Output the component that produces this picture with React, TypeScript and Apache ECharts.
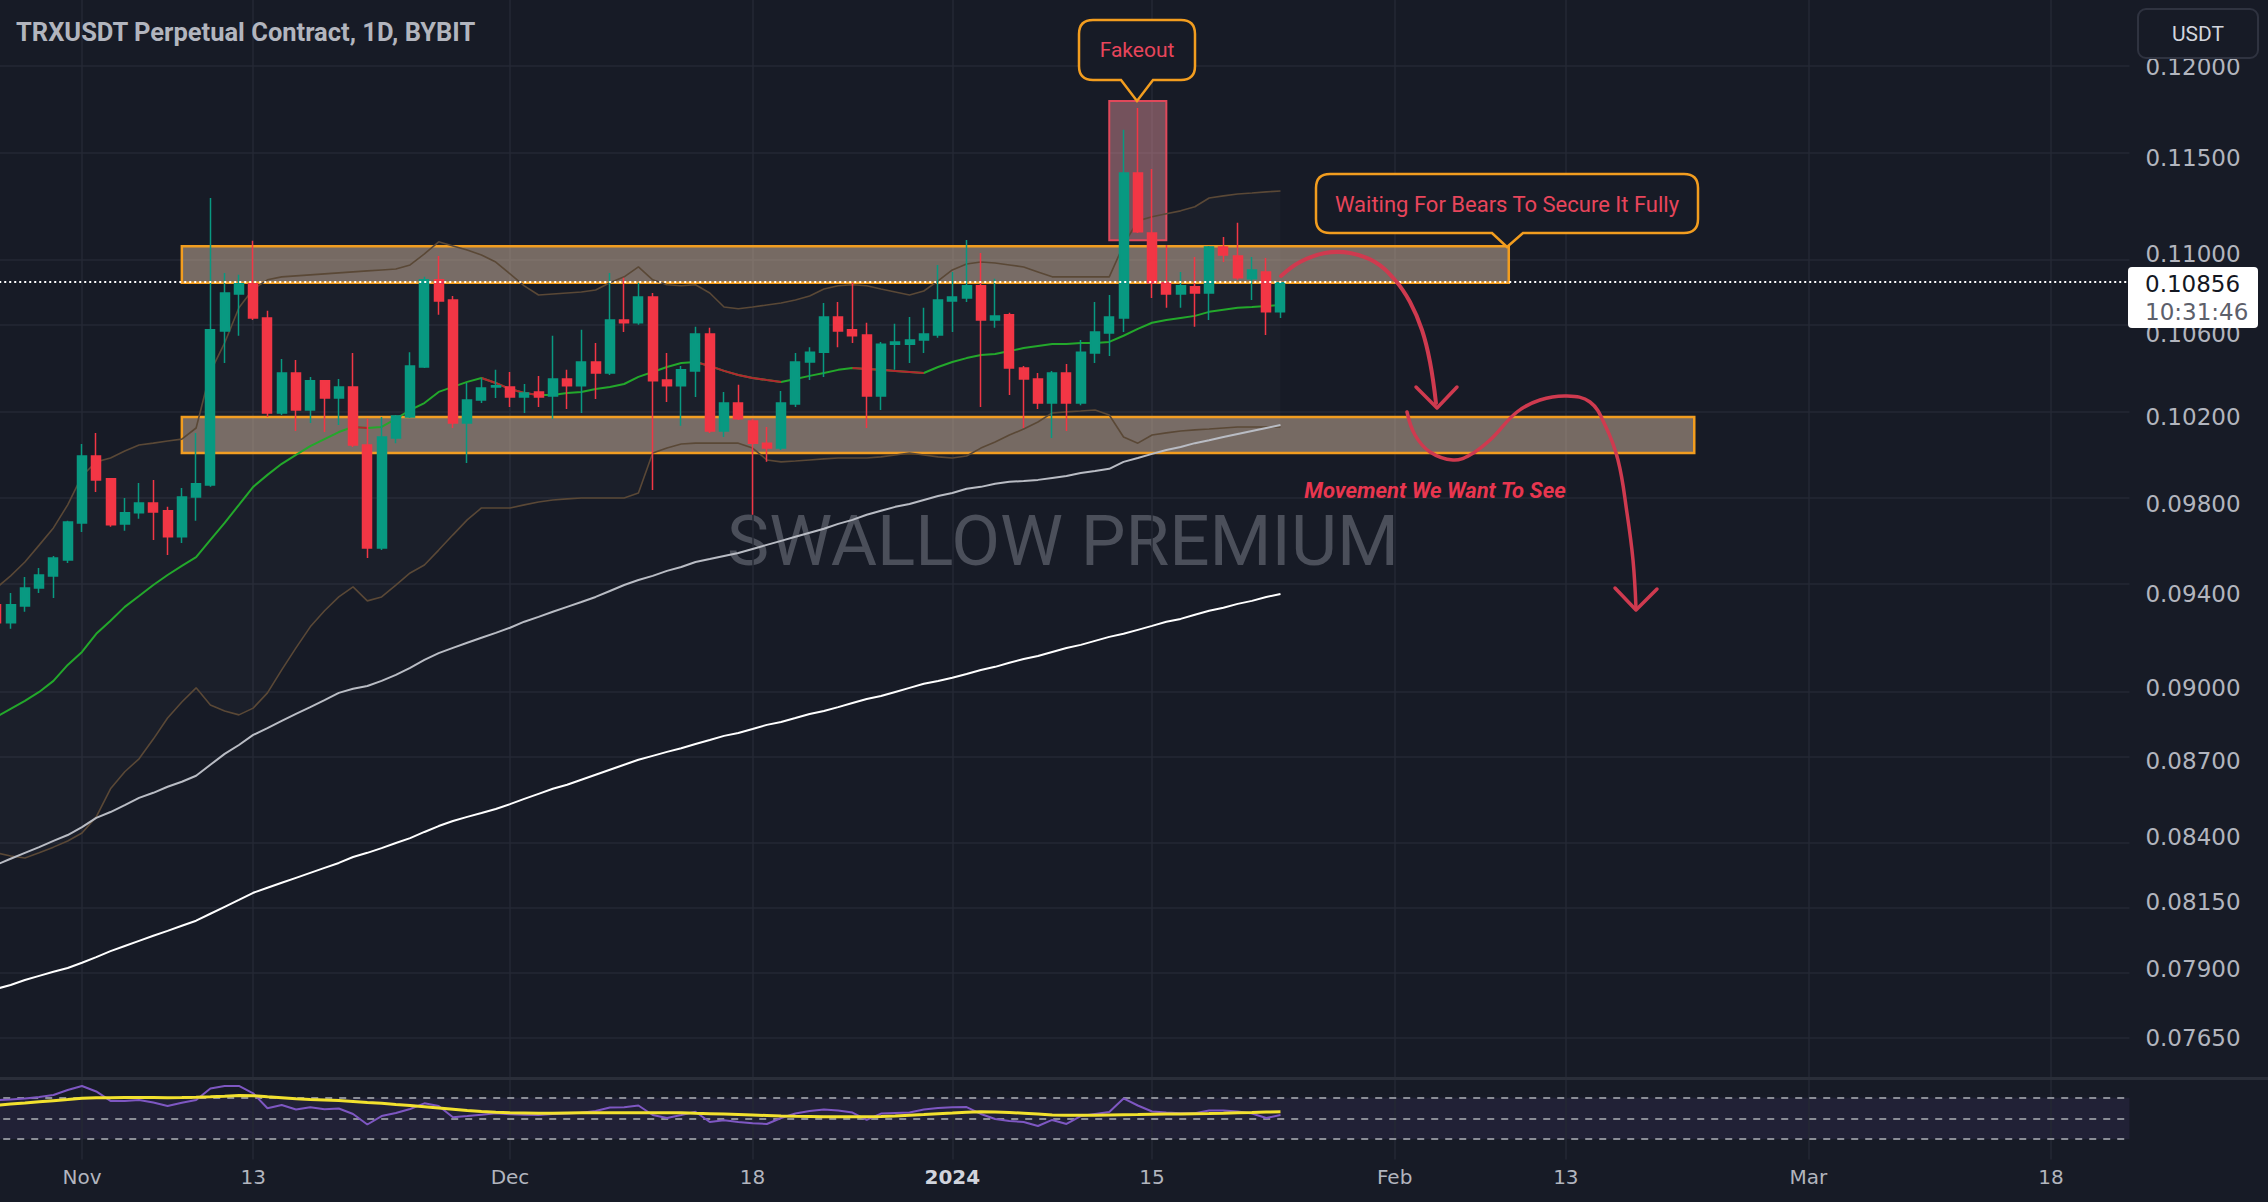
import React, { useEffect, useRef } from "react";
import * as echarts from "echarts";

// ---------------- data ----------------
const START_UTC = Date.UTC(2023, 9, 26); // first category: 2023-10-26
const DAY_COUNT = 150; // categories through 2024-03-23

// [open, high, low, close] per day from 2023-10-26 to 2024-01-24
const CANDLES: number[][] = [
  [0.09352, 0.09373, 0.09253, 0.09274], [0.09274, 0.09403, 0.09249, 0.09352], [0.09347, 0.09473, 0.09322, 0.09425],
  [0.09425, 0.09513, 0.09403, 0.09482], [0.09478, 0.09566, 0.09381, 0.09557], [0.09548, 0.09723, 0.09535, 0.09718],
  [0.09713, 0.10075, 0.09673, 0.10019], [0.10019, 0.10127, 0.09854, 0.09909], [0.09914, 0.09918, 0.09696, 0.09705],
  [0.09709, 0.09826, 0.09678, 0.09759], [0.09759, 0.09895, 0.09732, 0.09804], [0.09804, 0.09909, 0.09637, 0.09763],
  [0.09768, 0.09786, 0.0957, 0.09651], [0.09651, 0.09872, 0.09624, 0.09831], [0.09831, 0.10127, 0.09723, 0.09891],
  [0.09886, 0.11291, 0.09877, 0.10622], [0.10617, 0.10906, 0.1046, 0.10805], [0.108, 0.10896, 0.10593, 0.10851],
  [0.10851, 0.11069, 0.10671, 0.10681], [0.10681, 0.10716, 0.10202, 0.10221], [0.10221, 0.1048, 0.10211, 0.10412],
  [0.10412, 0.10475, 0.10136, 0.10235], [0.10235, 0.10393, 0.10174, 0.10374], [0.10374, 0.10378, 0.10131, 0.10292],
  [0.10292, 0.10383, 0.10164, 0.10345], [0.10345, 0.10509, 0.10061, 0.1007], [0.1007, 0.10193, 0.09557, 0.09601],
  [0.09601, 0.10202, 0.09592, 0.10108], [0.10103, 0.10211, 0.10079, 0.10207], [0.10202, 0.10513, 0.10197, 0.10446],
  [0.10441, 0.10886, 0.10436, 0.10871], [0.10871, 0.10992, 0.10696, 0.10765], [0.1077, 0.1079, 0.1015, 0.10174],
  [0.10174, 0.10364, 0.09987, 0.10282], [0.10282, 0.10388, 0.10268, 0.1034], [0.10345, 0.10427, 0.10292, 0.1035],
  [0.10345, 0.10417, 0.10249, 0.10297], [0.10297, 0.10359, 0.10221, 0.10316], [0.10321, 0.10398, 0.10249, 0.10297],
  [0.10302, 0.10593, 0.10193, 0.10383], [0.10383, 0.10427, 0.1024, 0.1035], [0.1035, 0.10622, 0.10221, 0.10465],
  [0.10465, 0.10557, 0.10287, 0.10412], [0.10412, 0.10906, 0.10402, 0.10671], [0.10671, 0.10881, 0.10612, 0.10657],
  [0.10657, 0.10856, 0.10647, 0.10785], [0.10785, 0.10805, 0.09863, 0.10374], [0.10378, 0.10509, 0.10273, 0.1035],
  [0.1035, 0.10446, 0.1016, 0.10427], [0.10422, 0.10637, 0.10297, 0.10602], [0.10602, 0.10632, 0.10127, 0.10136],
  [0.10136, 0.10321, 0.10108, 0.10268], [0.10268, 0.10355, 0.10188, 0.10193], [0.10183, 0.10193, 0.0975, 0.10079],
  [0.10079, 0.10155, 0.09992, 0.10056], [0.10056, 0.10326, 0.10047, 0.10268], [0.10263, 0.10509, 0.10249, 0.10465],
  [0.10465, 0.10537, 0.10378, 0.10513], [0.10513, 0.10755, 0.10393, 0.10686], [0.10686, 0.1076, 0.10537, 0.10617],
  [0.10622, 0.10856, 0.10557, 0.10593], [0.10597, 0.10657, 0.1015, 0.10302], [0.10302, 0.10562, 0.10235, 0.10552],
  [0.10552, 0.10652, 0.10427, 0.10562], [0.10552, 0.10686, 0.1046, 0.10572], [0.10572, 0.10731, 0.10509, 0.10602],
  [0.10597, 0.10946, 0.10583, 0.1077], [0.10765, 0.10911, 0.10612, 0.10785], [0.1078, 0.11074, 0.1076, 0.10841],
  [0.10841, 0.11007, 0.10249, 0.10671], [0.10671, 0.10876, 0.10632, 0.10691], [0.10696, 0.10706, 0.10306, 0.10436],
  [0.10436, 0.10446, 0.1015, 0.10383], [0.10383, 0.10412, 0.1024, 0.10268], [0.10268, 0.10422, 0.10103, 0.10412],
  [0.10412, 0.10455, 0.10136, 0.10268], [0.10268, 0.10572, 0.10258, 0.10513], [0.10509, 0.1076, 0.1046, 0.10612],
  [0.10607, 0.10795, 0.10494, 0.10686], [0.10681, 0.11653, 0.10612, 0.11423], [0.11423, 0.11772, 0.1111, 0.11116],
  [0.1111, 0.11444, 0.1078, 0.10856], [0.10856, 0.11048, 0.10731, 0.108], [0.108, 0.10911, 0.10731, 0.10841],
  [0.10836, 0.10987, 0.10637, 0.10805], [0.10805, 0.11043, 0.10671, 0.11038], [0.11038, 0.11089, 0.10961, 0.10997],
  [0.10992, 0.11162, 0.10871, 0.10881], [0.10876, 0.10987, 0.1077, 0.10921], [0.10911, 0.10982, 0.10597, 0.10711],
  [0.10711, 0.10861, 0.10681, 0.10856],
];

const MA20 = [
  0.08879, 0.08912, 0.08945, 0.08982, 0.09028, 0.09095, 0.0915, 0.09227, 0.09283, 0.09343,
  0.0939, 0.09438, 0.09482, 0.09522, 0.09561, 0.09637, 0.09714, 0.09795, 0.09877, 0.09932,
  0.09983, 0.10024, 0.10065, 0.10098, 0.10131, 0.10155, 0.1015, 0.10155, 0.10193, 0.10235,
  0.10268, 0.10321, 0.10345, 0.10369, 0.10388, 0.10364, 0.10335, 0.10316, 0.10306, 0.10306,
  0.10316, 0.10321, 0.10335, 0.10345, 0.10359, 0.10393, 0.10417, 0.10441, 0.1046, 0.10465,
  0.10446, 0.10422, 0.10402, 0.10388, 0.10378, 0.10369, 0.10383, 0.10398, 0.10412, 0.10427,
  0.10436, 0.10431, 0.10427, 0.10422, 0.10417, 0.10412, 0.10441, 0.10465, 0.10484, 0.10499,
  0.10504, 0.10518, 0.10533, 0.10543, 0.10553, 0.10553, 0.10558, 0.10558, 0.10563, 0.10593,
  0.10627, 0.10657, 0.10671, 0.10681, 0.10691, 0.10711, 0.10721, 0.10731, 0.10735, 0.1074, 0.10745,
];

const BB_UPPER = [
  0.09425, 0.09478, 0.09539, 0.09614, 0.09691, 0.09795, 0.09927, 0.09992, 0.1001, 0.10042,
  0.1007, 0.10079, 0.10089, 0.10098, 0.1015, 0.10417, 0.10558, 0.10731, 0.10825, 0.10871,
  0.10886, 0.10891, 0.10896, 0.10901, 0.10906, 0.10911, 0.10916, 0.10921, 0.10926, 0.10946,
  0.11002, 0.11064, 0.11043, 0.11022, 0.10997, 0.10961, 0.10901, 0.10841, 0.10795, 0.108,
  0.10805, 0.1081, 0.1082, 0.10856, 0.10886, 0.10936, 0.10871, 0.10846, 0.10841, 0.10846,
  0.10805, 0.10735, 0.10726, 0.10735, 0.10745, 0.10755, 0.1077, 0.1079, 0.10825, 0.10841,
  0.10846, 0.10841, 0.10825, 0.1081, 0.10795, 0.10815, 0.10866, 0.10921, 0.10951, 0.10961,
  0.10956, 0.10946, 0.10936, 0.10911, 0.10886, 0.10886, 0.10886, 0.10886, 0.10886, 0.11048,
  0.11172, 0.11193, 0.11209, 0.11224, 0.11245, 0.11291, 0.11302, 0.11312, 0.11317, 0.11323, 0.11328,
];

const BB_LOWER = [
  0.08337, 0.08325, 0.08317, 0.08337, 0.08359, 0.08383, 0.08414, 0.08477, 0.08588, 0.08656,
  0.08708, 0.08788, 0.08874, 0.0894, 0.08999, 0.08928, 0.08903, 0.08887, 0.08915, 0.08978,
  0.09074, 0.09167, 0.09257, 0.09326, 0.09386, 0.0943, 0.09369, 0.09386, 0.09438, 0.09491,
  0.09526, 0.09592, 0.0966, 0.09727, 0.09781, 0.09781, 0.09781, 0.09795, 0.09808, 0.09817,
  0.09822, 0.09826, 0.09826, 0.09826, 0.09826, 0.09849, 0.10033, 0.10056, 0.10075, 0.10079,
  0.10079, 0.10079, 0.10079, 0.10056, 0.10001, 0.09992, 0.09996, 0.10001, 0.10006, 0.1001,
  0.1001, 0.1001, 0.10015, 0.10024, 0.10033, 0.10024, 0.10015, 0.1001, 0.10019, 0.10056,
  0.10084, 0.10117, 0.10145, 0.10178, 0.10221, 0.10226, 0.1023, 0.10235, 0.10211, 0.10108,
  0.10079, 0.10117, 0.10127, 0.10136, 0.10141, 0.10145, 0.1015, 0.10155, 0.10155, 0.10155, 0.10155,
];

const MA100 = [
  0.08291, 0.08314, 0.08337, 0.08359, 0.08383, 0.08406, 0.08437, 0.08473, 0.08496, 0.08523,
  0.08552, 0.08572, 0.08596, 0.08616, 0.0864, 0.08684, 0.08728, 0.08764, 0.08805, 0.08833,
  0.08862, 0.08891, 0.08919, 0.08948, 0.08978, 0.08995, 0.09007, 0.09028, 0.09053, 0.09083,
  0.09116, 0.09145, 0.09167, 0.09189, 0.0921, 0.09231, 0.09253, 0.09279, 0.093, 0.09322,
  0.09343, 0.09364, 0.09386, 0.09412, 0.09438, 0.0946, 0.09478, 0.095, 0.09517, 0.09539,
  0.09552, 0.09566, 0.09579, 0.09597, 0.09615, 0.09633, 0.09651, 0.09669, 0.09687, 0.09709,
  0.09727, 0.0975, 0.09768, 0.09786, 0.09799, 0.09817, 0.09835, 0.09849, 0.09868, 0.09877,
  0.09891, 0.099, 0.09904, 0.09909, 0.09918, 0.09927, 0.09941, 0.0995, 0.0996, 0.09992,
  0.1001, 0.10029, 0.10047, 0.10061, 0.10079, 0.10093, 0.10108, 0.10122, 0.10136, 0.1015, 0.10164,
];

const MA200 = [
  0.07828, 0.07842, 0.0786, 0.07875, 0.0789, 0.07904, 0.07923, 0.07944, 0.07966, 0.07985,
  0.08004, 0.08023, 0.08041, 0.0806, 0.08079, 0.08105, 0.08131, 0.08157, 0.08184, 0.08203,
  0.08222, 0.08241, 0.0826, 0.08279, 0.08298, 0.08321, 0.08337, 0.08355, 0.08375, 0.08394,
  0.08418, 0.08441, 0.08461, 0.08477, 0.08492, 0.08508, 0.08527, 0.08548, 0.08568, 0.08588,
  0.08604, 0.08624, 0.08644, 0.08664, 0.08684, 0.08704, 0.0872, 0.08736, 0.08751, 0.08768,
  0.08784, 0.08801, 0.08813, 0.08829, 0.08846, 0.08858, 0.08874, 0.08891, 0.08903, 0.08919,
  0.08936, 0.08953, 0.08965, 0.08982, 0.08999, 0.09016, 0.09028, 0.09041, 0.09057, 0.09074,
  0.09087, 0.09104, 0.0912, 0.09133, 0.0915, 0.09167, 0.0918, 0.09197, 0.09214, 0.09227,
  0.09244, 0.09261, 0.09279, 0.09291, 0.09309, 0.09326, 0.09339, 0.09356, 0.09369, 0.09386, 0.09399,
];

const RSI = [
  67.7, 68.2, 69.2, 70.6, 72.6, 77.4, 81.3, 76.0, 66.8, 66.8,
  67.7, 65.3, 61.9, 65.1, 67.7, 78.9, 81.3, 81.3, 74.2, 59.7,
  62.9, 58.5, 60.7, 58.7, 59.5, 54.2, 44.0, 52.2, 55.1, 59.0,
  64.5, 61.9, 51.0, 52.2, 53.5, 54.8, 54.0, 53.4, 53.2, 54.2,
  54.6, 55.4, 57.1, 60.5, 60.7, 62.4, 53.2, 50.3, 53.2, 56.4,
  46.4, 48.1, 46.4, 45.1, 44.5, 50.3, 54.6, 57.1, 58.5, 57.6,
  55.6, 48.4, 54.6, 55.1, 55.6, 58.5, 60.0, 60.7, 60.9, 54.2,
  49.3, 47.4, 46.4, 42.5, 48.4, 44.5, 52.2, 54.2, 56.1, 69.2,
  62.4, 56.6, 55.6, 54.8, 54.8, 57.6, 57.6, 56.6, 54.6, 50.3, 53.2,
];

const RSI_MA = [
  62.4, 63.9, 64.8, 66.0, 67.1, 68.2, 69.4, 69.8, 70.0, 70.2,
  70.2, 70.1, 70.0, 70.1, 70.4, 70.8, 71.4, 72.1, 71.8, 70.8,
  69.9, 68.9, 68.2, 67.7, 67.2, 66.3, 65.3, 64.5, 63.4, 62.4,
  61.2, 60.0, 58.8, 57.6, 56.6, 55.8, 55.3, 55.1, 54.9, 54.9,
  55.1, 55.3, 55.4, 55.4, 55.4, 55.4, 55.4, 55.4, 55.3, 54.8,
  54.5, 54.2, 53.7, 53.2, 52.7, 52.2, 51.9, 51.7, 51.5, 51.5,
  51.5, 51.5, 51.7, 52.2, 53.0, 53.7, 54.5, 55.1, 55.9, 56.4,
  56.2, 55.6, 54.9, 54.2, 53.2, 53.0, 52.9, 53.0, 53.2, 53.4,
  53.6, 53.9, 54.1, 54.2, 54.4, 54.6, 54.9, 55.3, 55.6, 56.0, 56.4,
];

const PRICE_TICKS = [0.12, 0.115, 0.11, 0.106, 0.102, 0.098, 0.094, 0.09, 0.087, 0.084, 0.0815, 0.079, 0.0765];
const PRICE_RANGE = [0.075113, 0.123754];
const RSI_RANGE = [10, 90];
const RSI_LEVELS = [70, 50, 30];
const TIME_TICKS: [string, string][] = [
  ["2023-11-01", "Nov"], ["2023-11-13", "13"], ["2023-12-01", "Dec"], ["2023-12-18", "18"],
  ["2024-01-01", "2024"], ["2024-01-15", "15"], ["2024-02-01", "Feb"], ["2024-02-13", "13"],
  ["2024-03-01", "Mar"], ["2024-03-18", "18"],
];
const ZONES = [
  { from: "2023-11-08", to: "2024-02-09", low: 0.10856, high: 0.11042 },
  { from: "2023-11-08", to: "2024-02-22", low: 0.10033, high: 0.10202 },
];
const FAKEOUT = { from: "2024-01-12", to: "2024-01-16", low: 0.11072, high: 0.1181 };
const TITLE = "TRXUSDT Perpetual Contract, 1D, BYBIT";
const LAST_TIME = "10:31:46";

// ---------------- styling ----------------
const BG = "#171b26";
const GRID_COLOR = "#252935";
const UP = "#089981";
const DOWN = "#f23645";
const ORANGE = "#f29d1f";
const NOTE_RED = "#e8455b";
const AXIS_FONT = "DejaVu Sans";

const FAKEOUT_BUBBLE =
  "M1093 20H1181Q1195 20 1195 34V66Q1195 80 1181 80H1153L1137 101L1121 80H1093Q1079 80 1079 66V34Q1079 20 1093 20Z";
const WAITING_BUBBLE =
  "M1330 174H1684Q1698 174 1698 188V219Q1698 233 1684 233H1523L1507 247L1492 233H1330Q1316 233 1316 219V188Q1316 174 1330 174Z";
echarts.graphic.registerShape("fakeoutBubble", echarts.graphic.extendPath(FAKEOUT_BUBBLE, {}));
echarts.graphic.registerShape("waitingBubble", echarts.graphic.extendPath(WAITING_BUBBLE, {}));

const L = (p: number) => Math.log(p);

function buildDates() {
  const out: string[] = [];
  for (let i = 0; i < DAY_COUNT; i++) {
    out.push(new Date(START_UTC + i * 86400000).toISOString().slice(0, 10));
  }
  return out;
}

function buildOption() {
  const dates = buildDates();
  const tickMap = new Map(TIME_TICKS);
  const lastClose = CANDLES[CANDLES.length - 1][3];
  const maFalling = MA20.map((v, i) => {
    const prevFall = i > 0 && v < MA20[i - 1];
    const nextFall = i < MA20.length - 1 && MA20[i + 1] < v;
    return prevFall || nextFall ? L(v) : null;
  });

  const gridLeft = -10.77;
  const gridWidth = 2140.2;

  const lineBase = (name: string, data: any[], color: string, width: number, z: number) => ({
    name,
    type: "line",
    xAxisIndex: 0,
    yAxisIndex: 0,
    data,
    symbol: "none",
    silent: true,
    z,
    lineStyle: { color, width },
  });

  const textStyle = (o: any) => ({ ...o, textAlign: o.align, textVerticalAlign: o.verticalAlign });

  return {
    animation: false,
    backgroundColor: BG,
    textStyle: { fontFamily: "Roboto" },
    grid: [
      { left: gridLeft, width: gridWidth, top: 0, height: 1078, outerBoundsMode: "none", containLabel: false },
      { left: gridLeft, width: gridWidth, top: 1077, height: 82.6, outerBoundsMode: "none", containLabel: false },
    ],
    xAxis: [
      {
        type: "category", gridIndex: 0, data: dates,
        axisLine: { show: false }, axisTick: { show: false }, axisLabel: { show: false }, splitLine: { show: false },
      },
      {
        type: "category", gridIndex: 1, data: dates,
        axisLine: { show: false }, axisTick: { show: false }, splitLine: { show: false },
        axisLabel: {
          interval: (_i: number, v: string) => tickMap.has(v),
          formatter: (v: string) => (tickMap.get(v) === "2024" ? "{b|2024}" : tickMap.get(v) || ""),
          color: "#b2b5be", fontSize: 20, fontFamily: AXIS_FONT, margin: 7,
          rich: { b: { fontWeight: "bold", color: "#d1d4dc", fontSize: 20, fontFamily: AXIS_FONT } },
        },
      },
    ],
    yAxis: [
      {
        type: "value", gridIndex: 0, position: "right",
        min: L(PRICE_RANGE[0]), max: L(PRICE_RANGE[1]),
        axisLine: { show: false },
        axisTick: { show: false, customValues: PRICE_TICKS.map(L) },
        splitLine: { show: false },
        axisLabel: {
          customValues: PRICE_TICKS.map(L),
          formatter: (v: number) => Math.exp(v).toFixed(5),
          color: "#b2b5be", fontSize: 23, fontFamily: AXIS_FONT, margin: 16,
        },
      },
      {
        type: "value", gridIndex: 1, min: RSI_RANGE[0], max: RSI_RANGE[1],
        axisLine: { show: false }, axisTick: { show: false }, axisLabel: { show: false }, splitLine: { show: false },
      },
    ],
    series: [
      // grid lines
      {
        type: "line", xAxisIndex: 0, yAxisIndex: 0, data: [], z: 0, silent: true,
        markLine: {
          z: 0,
          silent: true, symbol: ["none", "none"], label: { show: false },
          lineStyle: { color: GRID_COLOR, type: "solid", width: 1.5 },
          emphasis: { disabled: true },
          data: [
            ...PRICE_TICKS.map((p) => ({ yAxis: L(p) })),
            ...TIME_TICKS.map(([d]) => ({ xAxis: d })),
          ],
        },
      },
      {
        type: "line", xAxisIndex: 1, yAxisIndex: 1, data: [], z: 0, silent: true,
        markArea: {
          z: 0,
          silent: true,
          itemStyle: { color: "rgba(126,87,194,0.10)" },
          data: [[{ yAxis: RSI_LEVELS[2] }, { yAxis: RSI_LEVELS[0] }]],
        },
        markLine: {
          z: 0,
          silent: true, symbol: ["none", "none"], label: { show: false },
          lineStyle: { color: GRID_COLOR, type: "solid", width: 1.5 },
          data: TIME_TICKS.map(([d]) => ({ xAxis: d })),
        },
      },
      {
        type: "line", xAxisIndex: 1, yAxisIndex: 1, data: [], z: 1, silent: true,
        markLine: {
          z: 1,
          silent: true, symbol: ["none", "none"], label: { show: false },
          lineStyle: { color: "#8a8d96", type: [7, 7], width: 2 },
          data: RSI_LEVELS.map((v) => ({ yAxis: v })),
        },
      },
      // zones
      {
        type: "line", xAxisIndex: 0, yAxisIndex: 0, data: [], z: 1, silent: true,
        markArea: {
          z: 1,
          silent: true,
          data: [
            ...ZONES.map((zn) => [
              {
                xAxis: zn.from, yAxis: L(zn.high),
                itemStyle: { color: "rgba(214,186,160,0.5)", borderColor: ORANGE, borderWidth: 2.5 },
              },
              { xAxis: zn.to, yAxis: L(zn.low) },
            ]),
            [
              {
                xAxis: FAKEOUT.from, yAxis: L(FAKEOUT.high),
                itemStyle: { color: "rgba(230,150,160,0.45)", borderColor: "#e0485a", borderWidth: 2 },
              },
              { xAxis: FAKEOUT.to, yAxis: L(FAKEOUT.low) },
            ],
          ],
        },
      },
      // Bollinger fill
      {
        type: "line", xAxisIndex: 0, yAxisIndex: 0, data: BB_LOWER.map(L), stack: "bb", stackStrategy: "all",
        symbol: "none", silent: true, z: 1, lineStyle: { opacity: 0 },
      },
      {
        type: "line", xAxisIndex: 0, yAxisIndex: 0,
        data: BB_UPPER.map((u, i) => L(u) - L(BB_LOWER[i])), stack: "bb", stackStrategy: "all",
        symbol: "none", silent: true, z: 1, lineStyle: { opacity: 0 },
        areaStyle: { color: "rgba(255,255,255,0.03)" },
      },
      lineBase("BB upper", BB_UPPER.map(L), "#5a4836", 1.6, 2),
      lineBase("BB lower", BB_LOWER.map(L), "#5a4836", 1.6, 2),
      lineBase("MA200", MA200.map(L), "#ffffff", 2, 2),
      lineBase("MA100", MA100.map(L), "#b9bcc4", 2, 2),
      lineBase("MA20", MA20.map(L), "#23a82b", 2, 2),
      lineBase("MA20 falling", maFalling, "#b3262f", 2, 2.1),
      {
        type: "candlestick", xAxisIndex: 0, yAxisIndex: 0, z: 3, silent: true,
        barWidth: 9.5,
        data: CANDLES.map(([o, h, l, c]) => [L(o), L(c), L(l), L(h)]),
        itemStyle: { color: UP, color0: DOWN, borderColor: UP, borderColor0: DOWN, borderWidth: 1.5 },
      },
      // current price line
      {
        type: "line", xAxisIndex: 0, yAxisIndex: 0, data: [], z: 6, silent: true,
        markLine: {
          z: 6,
          silent: true, symbol: ["none", "none"], label: { show: false },
          lineStyle: { color: "#ffffff", type: [2, 3], width: 2 },
          data: [{ yAxis: L(lastClose) }],
        },
      },
      // RSI
      {
        type: "line", xAxisIndex: 1, yAxisIndex: 1, data: RSI, symbol: "none", silent: true, z: 3,
        lineStyle: { color: "#7e57c2", width: 2 },
      },
      {
        type: "line", xAxisIndex: 1, yAxisIndex: 1, data: RSI_MA, symbol: "none", silent: true, z: 4,
        lineStyle: { color: "#f2e12e", width: 3 },
      },
    ],
    graphic: [
      {
        type: "text", z: 0, silent: true,
        style: textStyle({ text: "SWALLOW PREMIUM", x: 1063, y: 540, fill: "#4b4f5a", font: "71px Roboto", lineHeight: 58, align: "center", verticalAlign: "middle" }),
      },
      {
        type: "text", z: 100, silent: true,
        style: textStyle({ text: TITLE, x: 16, y: 32, fill: "#b2b5be", font: "bold 25.5px Roboto", align: "left", verticalAlign: "middle" }),
      },
      {
        type: "line", z: 100, silent: true,
        shape: { x1: 0, y1: 1078.5, x2: 2268, y2: 1078.5 },
        style: { stroke: "#2a2e39", lineWidth: 3 },
      },
      {
        type: "rect", z: 100, silent: true,
        shape: { x: 2138, y: 9, width: 120, height: 49, r: 8 },
        style: { fill: BG, stroke: "#2f3340", lineWidth: 2 },
      },
      {
        type: "text", z: 101, silent: true,
        style: textStyle({ text: "USDT", x: 2198, y: 34, fill: "#d1d4dc", font: "21px Roboto", align: "center", verticalAlign: "middle" }),
      },
      {
        type: "rect", z: 100, silent: true,
        shape: { x: 2128, y: 267, width: 130, height: 61, r: 4 },
        style: { fill: "#ffffff" },
      },
      {
        type: "text", z: 101, silent: true,
        style: textStyle({ text: lastClose.toFixed(5), x: 2145, y: 284, fill: "#131722", font: `23px "${AXIS_FONT}"`, align: "left", verticalAlign: "middle" }),
      },
      {
        type: "text", z: 101, silent: true,
        style: textStyle({ text: LAST_TIME, x: 2145, y: 312, fill: "#5d606b", font: `23px "${AXIS_FONT}"`, align: "left", verticalAlign: "middle" }),
      },
      {
        type: "fakeoutBubble", z: 100, silent: true, x: 0, y: 0,
        style: { fill: BG, stroke: ORANGE, lineWidth: 2.5 },
      },
      {
        type: "text", z: 101, silent: true,
        style: textStyle({ text: "Fakeout", x: 1137, y: 50, fill: NOTE_RED, font: "21px Roboto", align: "center", verticalAlign: "middle" }),
      },
      {
        type: "waitingBubble", z: 100, silent: true, x: 0, y: 0,
        style: { fill: BG, stroke: ORANGE, lineWidth: 2.5 },
      },
      {
        type: "text", z: 101, silent: true,
        style: textStyle({ text: "Waiting For Bears To Secure It Fully", x: 1507, y: 204, fill: NOTE_RED, font: "22px Roboto", align: "center", verticalAlign: "middle" }),
      },
      {
        type: "polyline", z: 100, silent: true,
        shape: {
          points: [[1281, 276], [1300, 262], [1325, 253], [1350, 253], [1375, 262], [1395, 280], [1410, 302], [1422, 330], [1430, 362], [1436, 403]],
          smooth: 0.4,
        },
        style: { stroke: "#cf3a4f", lineWidth: 4, fill: null, lineCap: "round", lineJoin: "round" },
      },
      {
        type: "polyline", z: 100, silent: true,
        shape: { points: [[1416, 387], [1437, 408], [1457, 387]] },
        style: { stroke: "#cf3a4f", lineWidth: 3.5, fill: null, lineCap: "round", lineJoin: "round" },
      },
      {
        type: "polyline", z: 100, silent: true,
        shape: {
          points: [[1407, 412], [1415, 435], [1430, 452], [1453, 460], [1470, 455], [1490, 440], [1517, 412], [1540, 400], [1567, 396], [1590, 402], [1605, 425], [1618, 460], [1627, 513], [1633, 560], [1636, 608]],
          smooth: 0.4,
        },
        style: { stroke: "#cf3a4f", lineWidth: 3.5, fill: null, lineCap: "round", lineJoin: "round" },
      },
      {
        type: "polyline", z: 100, silent: true,
        shape: { points: [[1615, 588], [1636, 610], [1657, 589]] },
        style: { stroke: "#cf3a4f", lineWidth: 3.5, fill: null, lineCap: "round", lineJoin: "round" },
      },
      {
        type: "text", z: 101, silent: true,
        style: textStyle({ text: "Movement We Want To See", x: 1435, y: 490, fill: "#e8364f", font: "italic bold 22px Roboto", lineHeight: 24, align: "center", verticalAlign: "middle" }),
      },
    ],
  };
}

export default function App() {
  const ref = useRef<HTMLDivElement>(null);
  useEffect(() => {
    document.body.style.margin = "0";
    const chart = echarts.init(ref.current as HTMLDivElement, undefined, { renderer: "svg" });
    chart.setOption(buildOption() as any);
    return () => chart.dispose();
  }, []);
  return (
    <div
      ref={ref}
      style={{ position: "fixed", left: 0, top: 0, width: 2268, height: 1202, background: BG }}
    />
  );
}
